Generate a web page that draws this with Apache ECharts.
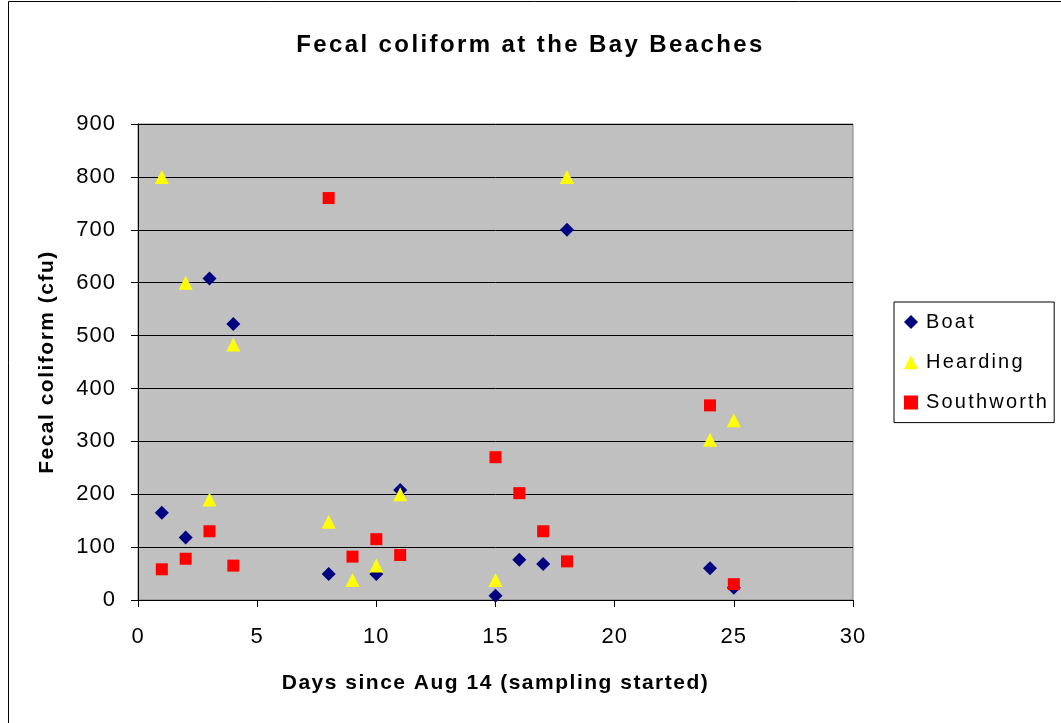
<!DOCTYPE html>
<html><head><meta charset="utf-8">
<script src="https://cdn.jsdelivr.net/npm/echarts@6/dist/echarts.min.js"></script>
<style>html,body{margin:0;padding:0;background:#fff}#c{width:1061px;height:723px}</style>
</head><body><div id="c"></div>
<script>
const boatDays = [1, 2, 3, 4, 8, 10, 11, 15, 16, 17, 18, 24, 25];
const boatVals = [165, 118, 608, 522, 49, 49, 208, 8, 76, 68, 700, 60, 23];
const heardingDays = [1, 2, 3, 4, 8, 9, 10, 11, 15, 18, 24, 25];
const heardingVals = [800, 600, 190, 483, 148, 38, 65, 200, 38, 800, 303, 340];
const southDays = [1, 2, 3, 4, 8, 9, 10, 11, 15, 16, 17, 18, 24, 25];
const southVals = [58, 78, 130, 65, 760, 82, 115, 85, 270, 202, 130, 73, 368, 30];
const seriesNames = ['Boat', 'Hearding', 'Southworth'];

// The reference uses slightly letter-spaced (GDI-style) text; emulate via canvas letterSpacing.
(function () {
  const proto = CanvasRenderingContext2D.prototype;
  const d = Object.getOwnPropertyDescriptor(proto, 'font');
  if (!d || !('letterSpacing' in proto)) return;
  const boldSpacing = {24: 2.4, 21: 1.5};
  const normalSpacing = {22: 1.0, 20: 2.2};
  Object.defineProperty(proto, 'font', {
    configurable: true,
    get() { return d.get.call(this); },
    set(v) {
      d.set.call(this, v);
      const str = v || '';
      const m = /(\d+(?:\.\d+)?)px/.exec(str);
      const s = m ? Math.round(parseFloat(m[1])) : 12;
      const table = /bold/.test(str) ? boldSpacing : normalSpacing;
      this.letterSpacing = (table[s] || 0) + 'px';
    }
  });
})();

const zip = (a, b) => a.map((d, i) => [d, b[i]]);
const font = 'Liberation Sans, Arial, sans-serif';
const chart = echarts.init(document.getElementById('c'), null, {renderer: 'canvas'});
chart.setOption({
  animation: false,
  title: {text: 'Fecal coliform at the Bay Beaches', left: 'center', top: 27,
    textStyle: {fontFamily: font, fontSize: 24, fontWeight: 'bold', color: '#000'}},
  graphic: [{type: 'rect', shape: {x: 8.5, y: 1.5, width: 1060, height: 740},
    style: {fill: 'none', stroke: '#000', lineWidth: 1}, z: -1}],
  grid: {left: 138, top: 124, width: 715, height: 476, show: true,
    backgroundColor: '#c0c0c0', borderColor: '#808080', borderWidth: 1},
  legend: {orient: 'vertical', left: 894, top: 302, data: seriesNames,
    borderColor: '#000', borderWidth: 1, padding: [9, 5, 9, 10], itemGap: 18,
    itemWidth: 14, itemHeight: 14,
    textStyle: {fontFamily: font, fontSize: 20, color: '#000', padding: [0, 0, 0, 3]}},
  xAxis: {type: 'value', min: 0, max: 30, interval: 5,
    name: 'Days since Aug 14 (sampling started)', nameLocation: 'middle', nameGap: 72,
    nameTextStyle: {fontFamily: font, fontSize: 21, fontWeight: 'bold', color: '#000'},
    axisLine: {onZero: false, lineStyle: {color: '#000'}},
    axisTick: {show: true, length: 7, lineStyle: {color: '#000'}},
    axisLabel: {fontFamily: font, fontSize: 22, color: '#000', margin: 25},
    splitLine: {show: false}},
  yAxis: {type: 'value', min: 0, max: 900, interval: 100,
    name: 'Fecal coliform (cfu)', nameLocation: 'middle', nameGap: 80, nameRotate: 90,
    nameTextStyle: {fontFamily: font, fontSize: 21, fontWeight: 'bold', color: '#000'},
    axisLine: {show: true, lineStyle: {color: '#000'}},
    axisTick: {show: true, length: 7, lineStyle: {color: '#000'}},
    axisLabel: {fontFamily: font, fontSize: 22, color: '#000', margin: 22},
    splitLine: {show: true, lineStyle: {color: '#000', width: 1}}},
  series: [
    {name: seriesNames[0], type: 'scatter', symbol: 'diamond', symbolSize: 14,
      itemStyle: {color: '#000080', opacity: 1}, data: zip(boatDays, boatVals), z: 3},
    {name: seriesNames[1], type: 'scatter', symbol: 'triangle', symbolSize: 14,
      itemStyle: {color: '#ffff00', opacity: 1}, data: zip(heardingDays, heardingVals), z: 4},
    {name: seriesNames[2], type: 'scatter', symbol: 'rect', symbolSize: 12,
      itemStyle: {color: '#ff0000', opacity: 1}, data: zip(southDays, southVals), z: 5}
  ]
});
</script></body></html>
